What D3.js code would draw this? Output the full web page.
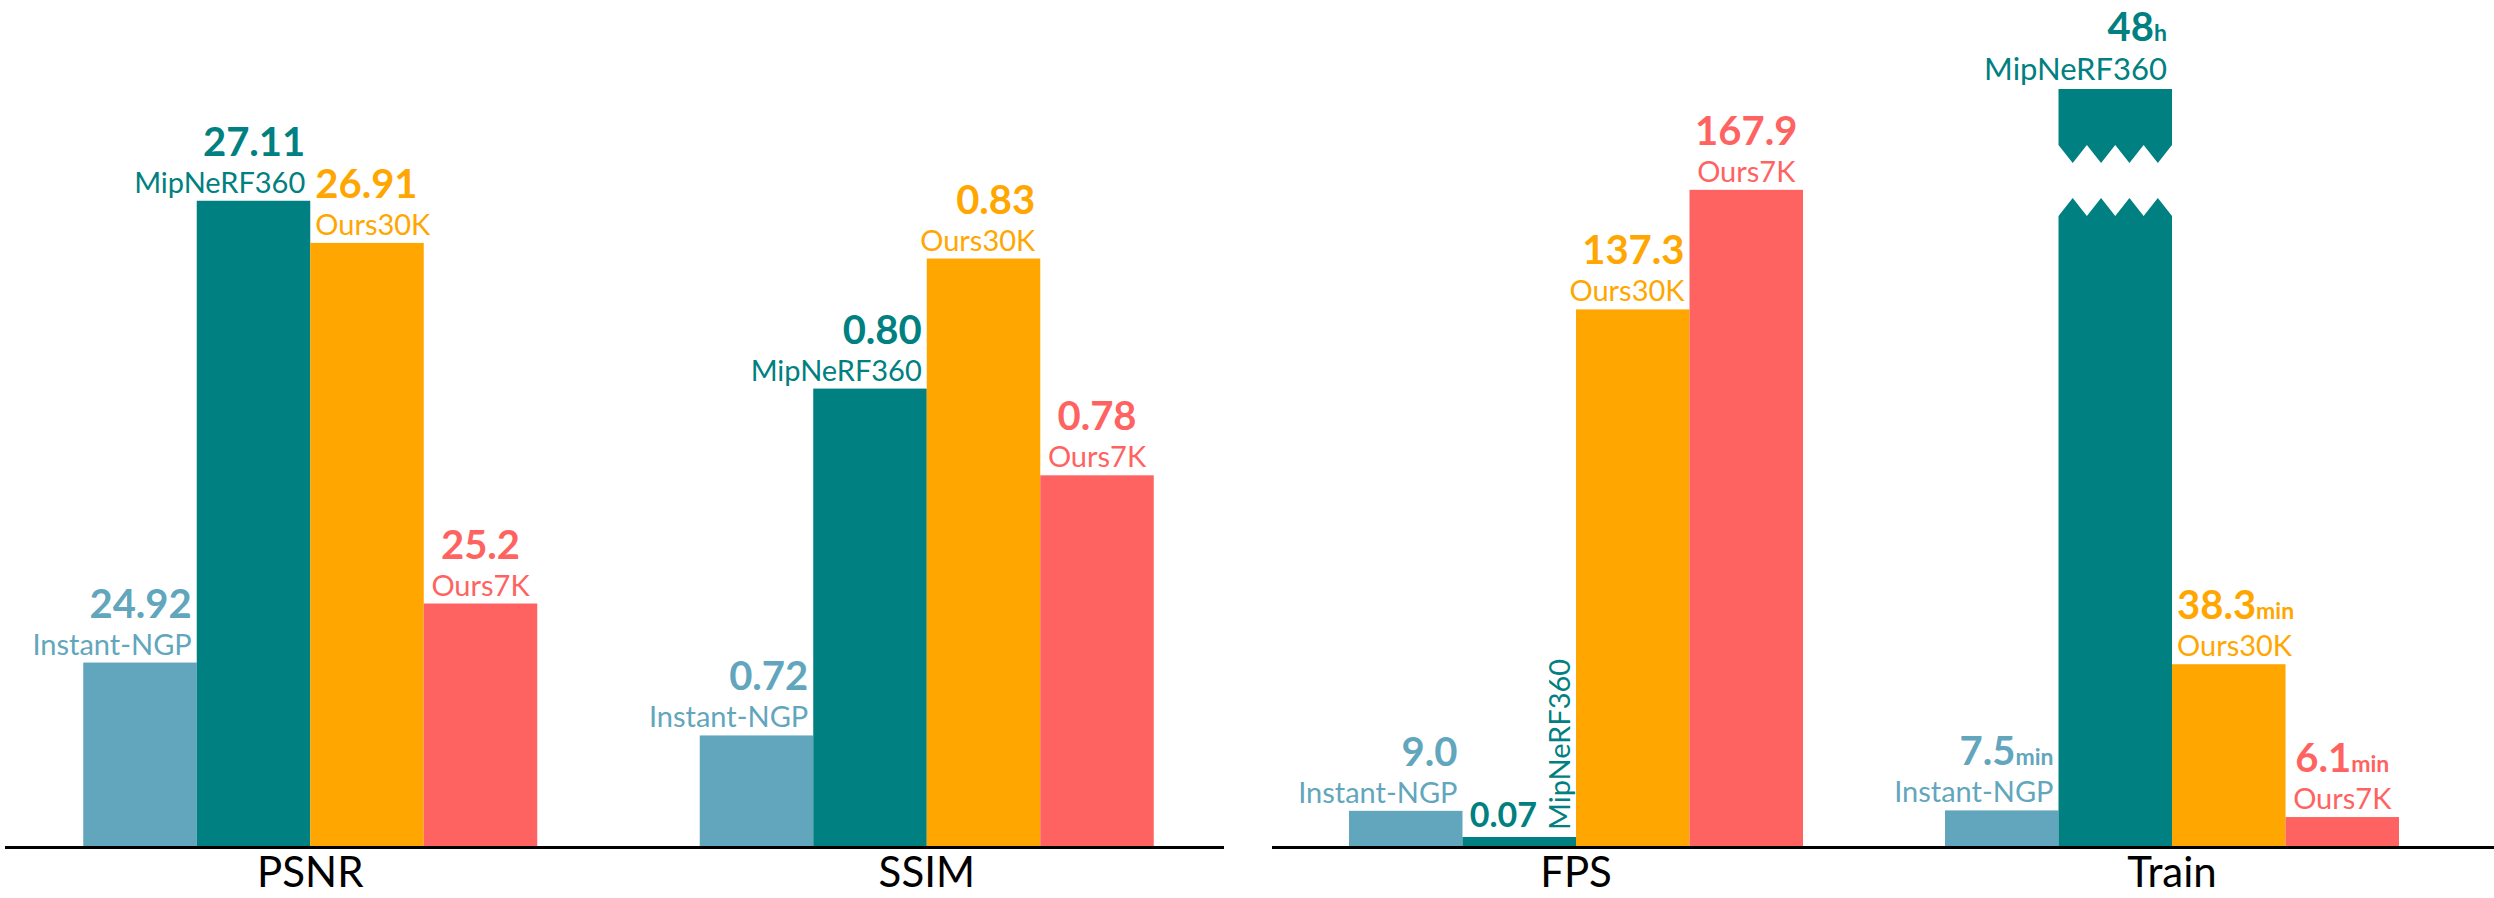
<!DOCTYPE html>
<html>
<head>
<meta charset="utf-8">
<script src="https://cdn.jsdelivr.net/npm/d3@7"></script>
<style>
  body { margin: 0; background: #fff; }
  svg { display: block; }
  text { font-family: Lato, "Open Sans", "DejaVu Sans", sans-serif; }
</style>
</head>
<body>
<svg id="chart" width="2494" height="898"></svg>
<script>
// ---- data ----
const methods = ["Instant-NGP", "MipNeRF360", "Ours30K", "Ours7K"];
const methodColors = ["#62a6bd", "#008080", "#ffa600", "#ff6361"];
const metrics = ["PSNR", "SSIM", "FPS", "Train"];

const psnrValues = [24.92, 27.11, 26.91, 25.2];
const ssimValues = [0.72, 0.80, 0.83, 0.78];
const fpsValues = [9.0, 0.07, 137.3, 167.9];
const trainMinutes = [7.5, 2880, 38.3, 6.1];

const psnrLabels = ["24.92", "27.11", "26.91", "25.2"];
const ssimLabels = ["0.72", "0.80", "0.83", "0.78"];
const fpsLabels = ["9.0", "0.07", "137.3", "167.9"];
const trainLabels = ["7.5", "48", "38.3", "6.1"];
const trainUnits = ["min", "h", "min", "min"];

// visible value window of each metric's bars
const psnrDomain = [24.05, 27.64];
const ssimDomain = [0.6945, 0.8691];
const fpsDomain = [0, 193.7];
const trainDomain = [0, 159.5];

const series = {
  PSNR:  { values: psnrValues,   labels: psnrLabels,  units: null,       domain: psnrDomain },
  SSIM:  { values: ssimValues,   labels: ssimLabels,  units: null,       domain: ssimDomain },
  FPS:   { values: fpsValues,    labels: fpsLabels,   units: null,       domain: fpsDomain },
  Train: { values: trainMinutes, labels: trainLabels, units: trainUnits, domain: trainDomain }
};

// ---- layout ----
const baseY = 846;      // bar baseline
const topY = 89;        // top of the value window
const minBar = 9;       // tiny values still get a visible sliver
const valueSize = 40, unitSize = 23, nameSize = 29;

const panels = [
  { metrics: ["PSNR", "SSIM"], range: [2, 1235],    axis: [5, 1224] },
  { metrics: ["FPS", "Train"], range: [1278, 2470], axis: [1272, 2494] }
];

const svg = d3.select("#chart");
const color = d3.scaleOrdinal().domain(methods).range(methodColors);
const xInner = d3.scaleBand().domain(methods).range([-227, 227]).padding(0);

panels.forEach(panel => {
  const x = d3.scaleBand().domain(panel.metrics).range(panel.range).padding(0);

  panel.metrics.forEach(metric => {
    const s = series[metric];
    const y = d3.scaleLinear().domain(s.domain).range([baseY, topY]);
    const cx = x(metric) + x.bandwidth() / 2;
    const w = xInner.bandwidth();
    const g = svg.append("g").attr("class", "metric-" + metric);

    const bars = methods.map((m, i) => {
      const v = s.values[i];
      const x0 = cx + xInner(m);
      const broken = v > s.domain[1];
      let top = broken ? topY : y(v);
      const tiny = baseY - top < minBar;
      if (tiny) top = baseY - minBar;
      return { m, i, v, x0, w, top, broken, tiny };
    });

    // bars
    bars.forEach(b => {
      if (!b.broken) {
        g.append("rect")
          .attr("x", b.x0).attr("y", b.top)
          .attr("width", b.w).attr("height", baseY - b.top)
          .attr("fill", color(b.m));
      } else {
        // value far beyond the window: draw the bar with a zigzag break
        const sideTop = topY + 56, sideBot = topY + 127, tooth = 18;
        const upper = [[b.x0, topY], [b.x0 + b.w, topY]];
        for (let k = 8; k >= 0; k--) {
          upper.push([b.x0 + k * b.w / 8, sideTop + (k % 2 ? tooth : 0)]);
        }
        const lower = [[b.x0, baseY]];
        for (let k = 0; k <= 8; k++) {
          lower.push([b.x0 + k * b.w / 8, sideBot - (k % 2 ? tooth : 0)]);
        }
        lower.push([b.x0 + b.w, baseY]);
        const line = d3.line();
        g.append("path").attr("d", line(upper) + "Z").attr("fill", color(b.m));
        g.append("path").attr("d", line(lower) + "Z").attr("fill", color(b.m));
      }
    });

    // labels
    bars.forEach((b, idx) => {
      const c = color(b.m);
      const lg = g.append("g");
      const broken = b.broken;
      const nameGap = broken ? 9 : 8;
      const valueGap = broken ? 48.5 : 45;

      if (b.tiny) {
        // sliver bar: value beside, name turned upright along the bar edge
        lg.append("text")
          .attr("x", b.x0 + b.w - 39).attr("y", b.top - 10)
          .attr("text-anchor", "end")
          .attr("font-size", 34).attr("font-weight", 700)
          .attr("fill", c).text(s.labels[b.i]);
        lg.append("text")
          .attr("transform", `translate(${b.x0 + b.w - 6},${b.top - 7}) rotate(-90)`)
          .attr("text-anchor", "start")
          .attr("font-size", nameSize)
          .attr("fill", c).text(b.m);
        return;
      }

      const valueText = lg.append("text")
        .attr("y", b.top - valueGap)
        .attr("font-size", valueSize).attr("font-weight", 700)
        .attr("fill", c);
      valueText.append("tspan").text(s.labels[b.i]);
      if (s.units) {
        valueText.append("tspan")
          .attr("font-size", unitSize).attr("font-weight", 700)
          .text(s.units[b.i]);
      }
      const nameText = lg.append("text")
        .attr("y", b.top - nameGap)
        .attr("font-size", broken ? 31 : nameSize)
        .attr("fill", c).text(b.m);

      const blockW = Math.max(valueText.node().getComputedTextLength(),
                              nameText.node().getComputedTextLength());
      let anchor, ax;
      if (blockW <= b.w - 10) {
        anchor = "middle"; ax = b.x0 + b.w / 2;
      } else if (idx > 0 && bars[idx - 1].top < b.top) {
        anchor = "start"; ax = b.x0 + 5;
      } else {
        anchor = "end"; ax = b.x0 + b.w - 5;
      }
      lg.selectAll("text").attr("x", ax).attr("text-anchor", anchor);
    });
  });

  // category labels
  const axis = d3.axisBottom(x).tickSize(0).tickPadding(11);
  const ag = svg.append("g").attr("transform", `translate(0,${baseY})`).call(axis);
  ag.select(".domain").remove();
  ag.selectAll("text")
    .attr("font-size", 42)
    .attr("fill", "#000")
    .style("font-family", "Lato, 'Open Sans', sans-serif");

  // baseline rule
  svg.append("line")
    .attr("x1", panel.axis[0]).attr("x2", panel.axis[1])
    .attr("y1", baseY + 1.5).attr("y2", baseY + 1.5)
    .attr("stroke", "#000").attr("stroke-width", 3);
});
</script>
</body>
</html>
